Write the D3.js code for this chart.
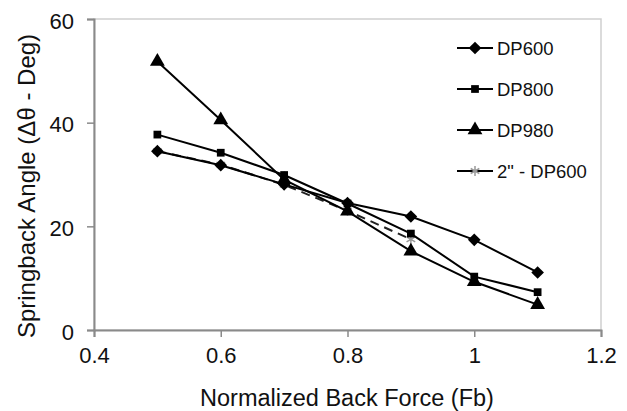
<!DOCTYPE html>
<html><head><meta charset="utf-8">
<script src="https://cdn.jsdelivr.net/npm/d3@7"></script>
<style>body{margin:0;background:#fff}svg text{font-family:"Liberation Sans",Arial,sans-serif;fill:#111}</style>
</head><body><svg id="c" width="627" height="411"></svg>
<script>
const xValues = [0.5, 0.6, 0.7, 0.8, 0.9, 1.0, 1.1];
const dp600 = [34.5, 31.8, 28.1, 24.5, 21.9, 17.4, 11.1];
const dp800 = [37.7, 34.2, 29.9, 24.4, 18.6, 10.3, 7.3];
const dp980 = [51.8, 40.5, 29.0, 22.9, 15.2, 9.3, 4.9];
const dp600_2in = [34.5, 31.9, 28.0, 23.0, 17.5];
const xTicks = [0.4, 0.6, 0.8, 1.0, 1.2];
const yTicks = [0, 20, 40, 60];
const seriesNames = ["DP600", "DP800", "DP980", "2\" - DP600"];

const svg = d3.select("#c");
const L = 94, R = 601, T = 19, B = 330;
const x = d3.scaleLinear().domain([0.4, 1.2]).range([L, R]);
const y = d3.scaleLinear().domain([0, 60]).range([B, T]);

svg.append("rect").attr("x", L).attr("y", T).attr("width", R - L).attr("height", B - T)
  .attr("fill", "none").attr("stroke", "#cfcfcf").attr("stroke-width", 1.5);

const xa = svg.append("g").attr("transform", `translate(0,${B})`)
  .call(d3.axisBottom(x).tickValues(xTicks).tickFormat(d => String(+d.toFixed(1))).tickSizeOuter(0).tickSize(7).tickPadding(10));
const ya = svg.append("g").attr("transform", `translate(${L},0)`)
  .call(d3.axisLeft(y).tickValues(yTicks).tickSizeOuter(0).tickSize(7).tickPadding(13));
[xa, ya].forEach(a => {
  a.select(".domain").attr("stroke", "#8a8a8a").attr("stroke-width", 2);
  a.selectAll(".tick line").attr("stroke", "#8a8a8a").attr("stroke-width", 1.5);
  a.selectAll(".tick text").attr("font-size", 22).attr("fill", "#111");
});
ya.selectAll(".tick text").attr("dy", "0.42em");

svg.append("text").attr("x", (L + R) / 2 - 0.5).attr("y", 406).attr("text-anchor", "middle")
  .attr("font-size", 23.5).text("Normalized Back Force (Fb)");
svg.append("text").attr("transform", `translate(35,186) rotate(-90)`)
  .attr("text-anchor", "middle").attr("font-size", 24).text("Springback Angle (\u0394\u03b8 - Deg)");

const line = d3.line().x((d, i) => x(xValues[i])).y(d => y(d));
const series = [
  {name: seriesNames[0], vals: dp600, sym: d3.symbolSquare, rot: 45, size: 80, dash: null, color: "#000"},
  {name: seriesNames[1], vals: dp800, sym: d3.symbolSquare, rot: 0, size: 60, dash: null, color: "#000"},
  {name: seriesNames[2], vals: dp980, sym: d3.symbolTriangle, rot: 0, size: 95, dash: null, color: "#000"},
  {name: seriesNames[3], vals: dp600_2in, sym: d3.symbolAsterisk, rot: 0, size: 70, dash: "9,6", color: "#222"}
];
function marker(g, s, tx, ty) {
  g.append("path")
    .attr("transform", `translate(${tx},${ty}) rotate(${s.rot})`)
    .attr("d", d3.symbol().type(s.sym).size(s.size))
    .attr("fill", s.sym === d3.symbolAsterisk ? "none" : "#000")
    .attr("stroke", s.sym === d3.symbolAsterisk ? "#999" : "none").attr("stroke-width", 1.5);
}
[series[3], series[0], series[1], series[2]].forEach(s => {
  svg.append("path").datum(s.vals).attr("d", line).attr("fill", "none")
    .attr("stroke", s.color).attr("stroke-width", 2).attr("stroke-dasharray", s.dash);
  const g = svg.append("g");
  s.vals.forEach((d, i) => marker(g, s, x(xValues[i]), y(d)));
});

const lg = svg.append("g");
series.forEach((s, i) => {
  const yy = 48 + i * 41;
  lg.append("line").attr("x1", 457).attr("x2", 493).attr("y1", yy).attr("y2", yy)
    .attr("stroke", "#000").attr("stroke-width", 2);
  marker(lg, s, 475, yy);
  lg.append("text").attr("x", 497).attr("y", yy + 6.5).attr("font-size", 18.5).text(s.name);
});
</script></body></html>
